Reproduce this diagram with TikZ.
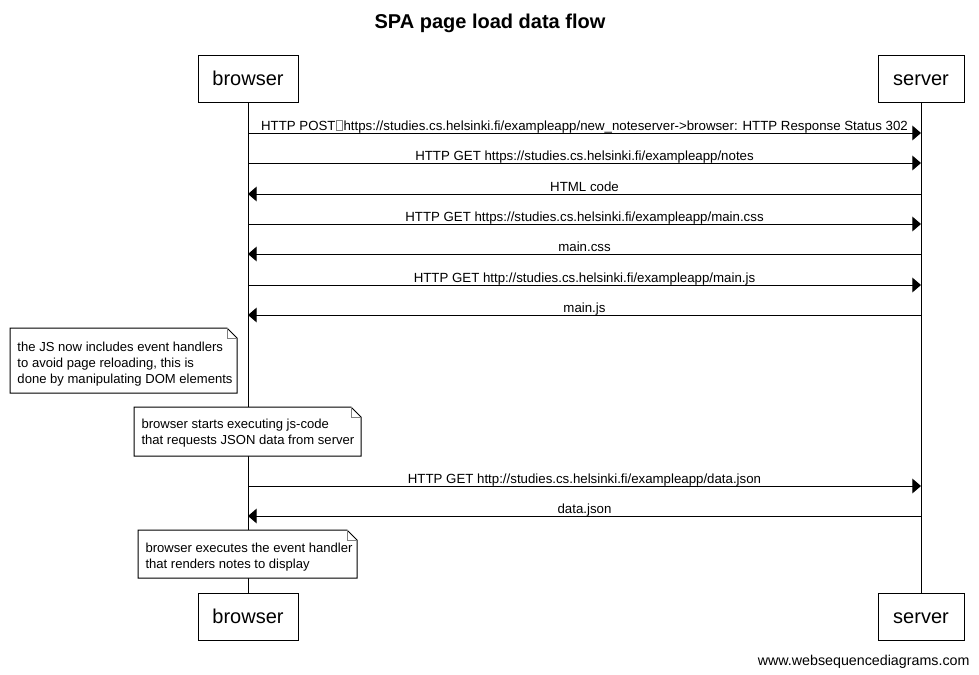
\documentclass[tikz,border=0pt]{standalone}
\usepackage{fontspec}
\setmainfont{Liberation Sans}
\usetikzlibrary{arrows.meta}
\newcommand{\tofubox}{\hspace{0.5pt}{\color{gray}\setlength\fboxsep{0pt}\setlength\fboxrule{0.4pt}\fbox{\rule{0pt}{7pt}\hspace{4.2pt}}}\hspace{0.5pt}}
\begin{document}
\begin{tikzpicture}[x=0.75pt,y=-0.75pt, line width=0.75pt,
  actor/.style={draw, fill=white, minimum height=35.25pt, inner sep=0pt, text height=11.2pt, text depth=0pt, font=\fontsize{15}{18}\selectfont},
  msg/.style={-{Triangle[length=6.5pt,width=11pt]}},
  lbl/.style={anchor=base, inner sep=0pt, font=\fontsize{9.95}{12}\selectfont},
  notetext/.style={anchor=north west, align=left, inner sep=0pt, font=\fontsize{9.8}{11.8}\selectfont},
  notebox/.style={draw, fill=white, line width=0.75pt},
  fold/.style={draw=gray, line width=0.5pt}]
\useasboundingbox (0,0) rectangle (979,675);

% title
\node[anchor=base, inner sep=0pt, font=\fontsize{15}{18}\bfseries] (title) at (490,28.5) {SPA page load data flow};

% actors
\node[actor, minimum width=75pt] (bt) at (248,78.5) {browser};
\node[actor, minimum width=64.5pt] (st) at (921,78.5) {server};
\node[actor, minimum width=75pt] (bb) at (248,616.5) {browser};
\node[actor, minimum width=64.5pt] (sb) at (921,616.5) {server};

% lifelines
\draw (bt.south) -- (bb.north);
\draw (st.south) -- (sb.north);

% messages
\foreach \i/\y in {1/133,2/163,3/194,4/224,5/254,6/285,7/315,8/486,9/516}{
  \coordinate (b\i) at (248,\y);
  \coordinate (s\i) at (921,\y);
  \coordinate (m\i) at (584.5,\y-3);
}
\draw[msg] (b1) -- (s1);
\node[lbl] (l1) at (m1) {HTTP POST\tofubox https://studies.cs.helsinki.fi/exampleapp/new\_noteserver->browser: HTTP Response Status 302};
\draw[msg] (b2) -- (s2);
\node[lbl] (l2) at (m2) {HTTP GET https://studies.cs.helsinki.fi/exampleapp/notes};
\draw[msg] (s3) -- (b3);
\node[lbl] (l3) at (m3) {HTML code};
\draw[msg] (b4) -- (s4);
\node[lbl] (l4) at (m4) {HTTP GET https://studies.cs.helsinki.fi/exampleapp/main.css};
\draw[msg] (s5) -- (b5);
\node[lbl] (l5) at (m5) {main.css};
\draw[msg] (b6) -- (s6);
\node[lbl] (l6) at (m6) {HTTP GET http://studies.cs.helsinki.fi/exampleapp/main.js};
\draw[msg] (s7) -- (b7);
\node[lbl] (l7) at (m7) {main.js};
\draw[msg] (b8) -- (s8);
\node[lbl] (l8) at (m8) {HTTP GET http://studies.cs.helsinki.fi/exampleapp/data.json};
\draw[msg] (s9) -- (b9);
\node[lbl] (l9) at (m9) {data.json};

% notes
\draw[notebox] (10,328) -- (227,328) -- (237,338) -- (237,393) -- (10,393) -- cycle;
\draw[fold] (227,328) -- (227,338) -- (237,338);
\node[notetext] (n1) at (17,342) {the JS now includes event handlers\\to avoid page reloading, this is\\done by manipulating DOM elements};

\draw[notebox] (134,407) -- (351,407) -- (361,417) -- (361,456) -- (134,456) -- cycle;
\draw[fold] (351,407) -- (351,417) -- (361,417);
\node[notetext] (n2) at (141,418.5) {browser starts executing js-code\\that requests JSON data from server};

\draw[notebox] (138,530) -- (347,530) -- (357,540) -- (357,578) -- (138,578) -- cycle;
\draw[fold] (347,530) -- (347,540) -- (357,540);
\node[notetext] (n3) at (145,542.5) {browser executes the event handler\\that renders notes to display};

% watermark
\node[anchor=base east, inner sep=0pt, font=\fontsize{10.7}{12}\selectfont] (wm) at (970,665) {www.websequencediagrams.com};
\end{tikzpicture}
\end{document}
